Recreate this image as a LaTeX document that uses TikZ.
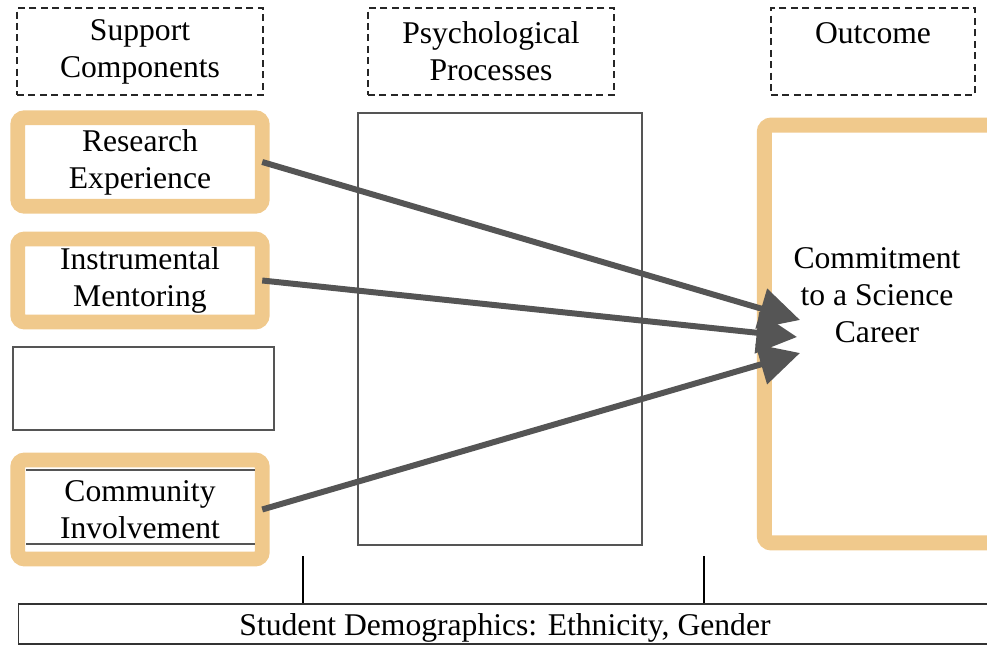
\documentclass[tikz,border=0pt]{standalone}
\usepackage{fontspec}
\setmainfont{Liberation Serif}
\usetikzlibrary{arrows.meta}
\definecolor{sand}{RGB}{240,201,140}
\definecolor{ink}{RGB}{85,85,85}

\begin{document}
\begin{tikzpicture}[x=0.02cm,y=-0.02cm,font=\fontsize{18}{21}\selectfont] %% tikz
	\tikzstyle{head}=[draw=black!85,line width=0.8pt,dash pattern=on 4pt off 2.5pt,minimum width=4.92cm,minimum height=1.74cm,align=center,inner sep=0pt];
	\tikzstyle{gold}=[draw=sand,line width=8.5pt,rounded corners=4pt,fill=white,align=center,inner sep=0pt,outer sep=0pt];
	\tikzstyle{plain}=[draw=ink,line width=0.9pt,inner sep=0pt];
	\tikzstyle{arr}=[draw=ink,line width=3.4pt,-{Triangle[length=23pt,width=23pt]}];
	\useasboundingbox (0,0) rectangle (987,645);
	%% headers
	\node[head] (sup) at (140,51.5) {Support\\Components};
	\node[head] (psy) at (491,51.5) {Psychological\\Processes};
	\node[head,minimum width=4.08cm] (res) at (873,51.5) {Outcome\\~};
	%% support components
	\node[gold,minimum width=4.89cm,minimum height=1.77cm] (rex) at (140,162) {Research\\Experience};
	\node[gold,minimum width=4.89cm,minimum height=1.66cm] (ment) at (140,280.5) {Instrumental\\Mentoring};
	\node[plain,minimum width=5.22cm,minimum height=1.66cm] (blank) at (143.5,388.5) {};
	\node[gold,minimum width=4.89cm,minimum height=1.98cm] (comm) at (140,509.5) {Community\\Involvement};
	\draw[ink,line width=1.1pt] (26,470) -- (255,470) (26,544) -- (255,544);
	%% processes
	\node[plain,minimum width=5.68cm,minimum height=8.64cm] (proc) at (500,329) {};
	%% outcome
	\node[gold,minimum width=4.71cm,minimum height=8.36cm] (out) at (882,334) {};
	\node[align=center,inner sep=0pt] (career) at (877,295) {Commitment\\to a Science\\Career};
	%% demographics
	\node[draw=black!80,line width=0.6pt,minimum width=19.64cm,minimum height=0.8cm,inner sep=0pt] (demo) at (509,624) {};
	\node[inner sep=0pt] (demotxt) at (505,628) {Student Demographics: Ethnicity, Gender};
	\coordinate (t1) at (303,556);
	\coordinate (t2) at (704,556);
	\draw[line width=1.1pt] (t1) -- (t1 |- demo.north);
	\draw[line width=1.1pt] (t2) -- (t2 |- demo.north);
	%% arrows
	\coordinate (tip1) at (800,320);
	\coordinate (tip2) at (797,337);
	\coordinate (tip3) at (800,353);
	\draw[arr] (rex.east) -- (tip1);
	\draw[arr] (ment.east) -- (tip2);
	\draw[arr] (comm.east) -- (tip3);
\end{tikzpicture}
\end{document}
